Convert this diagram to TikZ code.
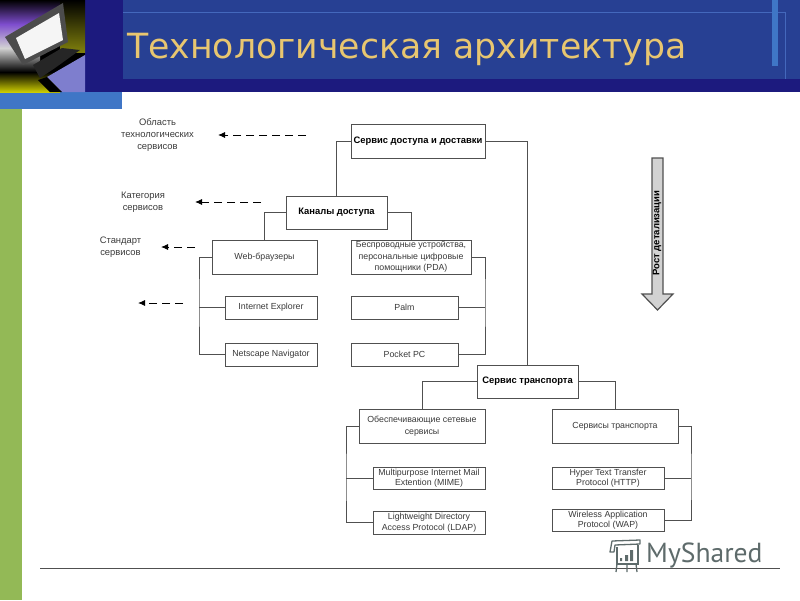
\documentclass[tikz,border=0pt]{standalone}
\usepackage{fontspec}
\usepackage{xcolor}
\setmainfont{Liberation Sans}
\newfontfamily\titlefont{DejaVu Sans}
\newfontfamily\logofont{PT Sans}
\usetikzlibrary{arrows.meta,positioning,calc}
\definecolor{navydark}{HTML}{1C1A7E}
\definecolor{navypanel}{HTML}{274093}
\definecolor{navyline}{HTML}{4468BC}
\definecolor{barblue}{HTML}{3F76C6}
\definecolor{bargreen}{HTML}{93B956}
\definecolor{titlegold}{HTML}{E8C670}
\definecolor{linegray}{HTML}{505050}
\definecolor{textgray}{HTML}{3A3A3A}
\definecolor{logogray}{HTML}{5E6B6B}
\tikzset{
  box/.style={draw=linegray, line width=1pt, fill=white, inner sep=0pt, align=center, font=\fontsize{8.8}{11.5}\selectfont, text=textgray},
  tightbox/.style={box, font=\fontsize{8.8}{10.5}\selectfont},
  mainbox/.style={box, font=\fontsize{9.4}{11}\selectfont\bfseries, text=black},
  link/.style={draw=linegray, line width=1pt},
  hint/.style={align=center, inner sep=0pt, font=\fontsize{9.4}{11.6}\selectfont, text=textgray},
  level/.style={draw=black, line width=.9pt, dash pattern=on 8pt off 5pt, -{Latex[length=7pt,width=6pt]}}
}
\begin{document}
\begin{tikzpicture}[x=1pt,y=-1pt]
\useasboundingbox (0,0) rectangle (800,600);

\fill[navydark] (0,0) rectangle (800,92);
\fill[navypanel] (123,0) rectangle (800,79);
\draw[navyline] (123,12) -- (785,12) -- (785,79);
\fill[barblue] (772,0) rectangle (778,66);
\fill[barblue] (0,92) rectangle (122,109);
\fill[bargreen] (0,109) rectangle (22,600);

\begin{scope}
\clip (0,0) rectangle (85,92);
\fill[black] (0,0) rectangle (85,92);
\shade[top color=black, bottom color=violet!55!blue!70!white] (0,0) rectangle (60,24);
\shade[top color=violet!55!blue!70!white, bottom color=black, middle color=gray!35] (0,24) rectangle (40,72);
\shade[top color=black, bottom color=yellow!60!olive] (0,72) rectangle (60,92);
\shade[top color=black, bottom color=olive!45!gray] (60,0) rectangle (85,52);
\fill[blue!45!gray!70!white] (47,77) -- (85,55) -- (85,92) -- (62,92) -- cycle;
\fill[black] (38,80) -- (47,77) -- (62,92) -- (50,92) -- cycle;
\fill[black!85] (33,65) -- (62,48) -- (80,50) -- (55,68) -- (40,78) -- cycle;
\fill[black!70] (5,37) -- (63,3) -- (68,42) -- (23,65) -- cycle;
\fill[white!92!gray] (16,38) -- (59,13) -- (63,40) -- (25,59) -- cycle;
\end{scope}

\node[anchor=west, inner sep=0pt, text=titlegold, font=\titlefont\fontsize{34.7}{36}\selectfont] (title) at (127,49) {Технологическая архитектура};

\node[mainbox, minimum width=134pt, minimum height=34pt] (access) at (418,141) {Сервис доступа и доставки};
\node[mainbox, minimum width=101pt, minimum height=33pt] (channels) at (336.5,212.5) {Каналы доступа};
\node[box, minimum width=105pt, minimum height=34pt] (web) at (264.5,257) {Web-браузеры};
\node[box, minimum width=92pt, minimum height=23pt] (ie) at (271,307.5) {Internet Explorer};
\node[box, minimum width=92pt, minimum height=23pt] (netscape) at (271,354.5) {Netscape Navigator};
\node[box, minimum width=120pt, minimum height=34pt] (pda) at (411,257) {Беспроводные устройства,\\персональные цифровые\\помощники (PDA)};
\node[box, minimum width=107pt, minimum height=23pt] (palm) at (404.5,307.5) {Palm};
\node[box, minimum width=107pt, minimum height=23pt] (pocket) at (404.5,354.5) {Pocket PC};
\node[mainbox, minimum width=101pt, minimum height=33pt] (transport) at (527.5,381.5) {Сервис транспорта};
\node[box, minimum width=126pt, minimum height=34pt] (network) at (422,426) {Обеспечивающие сетевые\\сервисы};
\node[box, minimum width=126pt, minimum height=34pt] (services) at (615,426) {Сервисы транспорта};
\node[tightbox, minimum width=112pt, minimum height=22pt] (mime) at (429,478) {Multipurpose Internet Mail\\Extention (MIME)};
\node[tightbox, minimum width=112pt, minimum height=23pt] (ldap) at (429,522.5) {Lightweight Directory\\Access Protocol (LDAP)};
\node[tightbox, minimum width=112pt, minimum height=22pt] (http) at (608,478) {Hyper Text Transfer\\Protocol (HTTP)};
\node[tightbox, minimum width=112pt, minimum height=22pt] (wap) at (608,520) {Wireless Application\\Protocol (WAP)};

\coordinate (webbus) at (199,300);
\coordinate (pdabus) at (485,300);
\coordinate (netbus) at (346,480);
\coordinate (servbus) at (691,480);

\draw[link] (access.west) -| (channels.north);
\draw[link] (access.east) -| (transport.north);
\draw[link] (channels.west) -| (web.north);
\draw[link] (channels.east) -| (pda.north);
\draw[link] (transport.west) -| (network.north);
\draw[link] (transport.east) -| (services.north);
\draw[link] (web.west) -| (webbus) |- (netscape.west);
\draw[link] (ie.west) -- (ie.west -| webbus);
\draw[link] (pda.east) -| (pdabus) |- (pocket.east);
\draw[link] (palm.east) -- (palm.east -| pdabus);
\draw[link] (network.west) -| (netbus) |- (ldap.west);
\draw[link] (mime.west) -- (mime.west -| netbus);
\draw[link] (services.east) -| (servbus) |- (wap.east);
\draw[link] (http.east) -- (http.east -| servbus);

\node[hint] (area) at (157.5,135) {Область\\технологических\\сервисов};
\node[hint] (category) at (143,202) {Категория\\сервисов};
\node[hint] (standard) at (120.5,247) {Стандарт\\сервисов};

\coordinate (areafrom) at (306,135);
\coordinate (areato) at (218,135);
\coordinate (categoryfrom) at (261,202);
\coordinate (categoryto) at (195,202);
\coordinate (standardfrom) at (195,247);
\coordinate (standardto) at (161,247);
\coordinate (productfrom) at (183,303);
\coordinate (productto) at (138,303);
\draw[level] (areafrom) -- (areato);
\draw[level] (categoryfrom) -- (categoryto);
\draw[level] (standardfrom) -- (standardto);
\draw[level] (productfrom) -- (productto);

\draw[draw=linegray, line width=1.2pt, fill=gray!35, line join=miter] (652,158) -- (663,158) -- (663,294) -- (673,294) -- (657.5,310) -- (642,294) -- (652,294) -- cycle;
\node[rotate=90, inner sep=0pt, font=\fontsize{9.5}{10}\selectfont\bfseries, text=black] (growth) at (657,233) {Рост детализации};

\draw[draw=linegray, line width=.9pt] (40,568) -- (780,568);

\draw[draw=logogray, line width=1.3pt, line join=round] (610,552) -- (612,541) -- (640,540) -- (640,544) -- (615,545) -- (614,552) -- cycle;
\draw[draw=logogray, line width=1.3pt] (617,547) -- (617,564) -- (638,564) -- (638,545);
\draw[draw=logogray, line width=1.3pt] (617,564) -- (616,572) (627,564) -- (627,572) (636,564) -- (637,572);
\fill[logogray] (620,558) rectangle (622,561) (625,555) rectangle (628,561) (630,550) rectangle (633,561);
\node[anchor=west, inner sep=0pt, text=logogray, font=\logofont\fontsize{27.6}{30}\selectfont] (logo) at (646,555) {MyShared};
\end{tikzpicture}
\end{document}
